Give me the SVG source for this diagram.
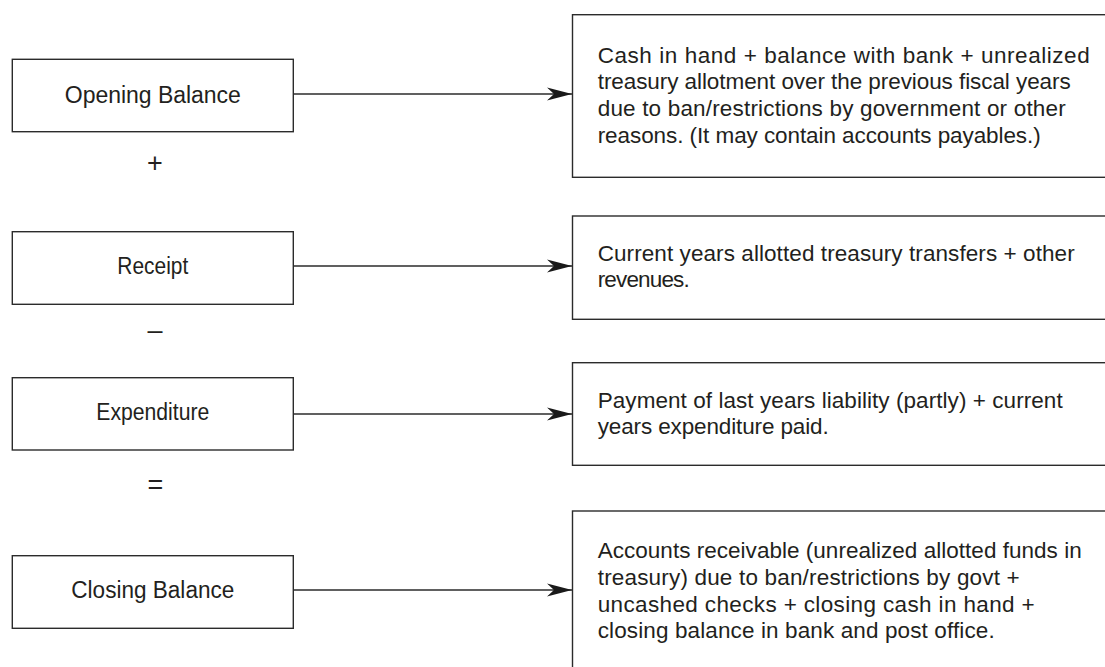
<svg xmlns="http://www.w3.org/2000/svg" width="1105" height="667" viewBox="0 0 1105 667">
<style>
.box{fill:#fff;stroke:#2b2b2b;stroke-width:1.4}
.lbl{font-family:"Liberation Sans",Arial,sans-serif;font-size:23px;fill:#231f20;text-anchor:middle}
.desc{font-family:"Liberation Sans",Arial,sans-serif;font-size:22.5px;fill:#231f20}
.op{font-family:"Liberation Sans",Arial,sans-serif;font-size:27px;fill:#231f20;text-anchor:middle}
.conn{stroke:#2b2b2b;stroke-width:1.5;fill:none}
</style>
<defs>
<marker id="arr" markerUnits="userSpaceOnUse" markerWidth="28" markerHeight="16" viewBox="-26 -8 28 16" refX="0" refY="0" orient="auto">
<path d="M0,0 L-25,-6.5 L-18,0 L-25,6.5 Z" fill="#1a1a1a"/>
</marker>
</defs>
<rect width="1105" height="667" fill="#fff"/>
<g id="opening">
<rect class="box" x="12.3" y="59.3" width="281" height="72.4"/>
<text class="lbl" x="152.8" y="103.3" textLength="176">Opening Balance</text>
</g>
<g id="receipt">
<rect class="box" x="12.3" y="231.7" width="281" height="72.6"/>
<text class="lbl" x="152.8" y="274" textLength="71" lengthAdjust="spacingAndGlyphs">Receipt</text>
</g>
<g id="expenditure">
<rect class="box" x="12.3" y="377.7" width="281" height="72.3"/>
<text class="lbl" x="152.8" y="420" textLength="113" lengthAdjust="spacingAndGlyphs">Expenditure</text>
</g>
<g id="closing">
<rect class="box" x="12.3" y="555.7" width="281" height="72.6"/>
<text class="lbl" x="152.8" y="598.3" textLength="163" lengthAdjust="spacingAndGlyphs">Closing Balance</text>
</g>
<g id="operators">
<text class="op" x="155" y="171.5">+</text>
<text class="op" x="155" y="338.5">–</text>
<text class="op" x="155.5" y="494">=</text>
</g>
<g id="desc-opening">
<rect class="box" x="572.5" y="14.7" width="600" height="162.6"/>
<text class="desc" x="597.7" y="62.5" textLength="492">Cash in hand + balance with bank + unrealized</text>
<text class="desc" x="597.7" y="89.3" textLength="473">treasury allotment over the previous fiscal years</text>
<text class="desc" x="597.7" y="116.1" textLength="468">due to ban/restrictions by government or other</text>
<text class="desc" x="597.7" y="142.9" textLength="443">reasons. (It may contain accounts payables.)</text>
</g>
<g id="desc-receipt">
<rect class="box" x="572.5" y="216" width="600" height="103.3"/>
<text class="desc" x="597.7" y="260.7" textLength="477">Current years allotted treasury transfers + other</text>
<text class="desc" x="597.7" y="287.3" textLength="92">revenues.</text>
</g>
<g id="desc-expenditure">
<rect class="box" x="572.5" y="362.7" width="600" height="102.6"/>
<text class="desc" x="597.7" y="408.3" textLength="465">Payment of last years liability (partly) + current</text>
<text class="desc" x="597.7" y="434" textLength="231">years expenditure paid.</text>
</g>
<g id="desc-closing">
<rect class="box" x="572.5" y="511" width="600" height="200"/>
<text class="desc" x="597.7" y="558.3" textLength="484">Accounts receivable (unrealized allotted funds in</text>
<text class="desc" x="597.7" y="585" textLength="422">treasury) due to ban/restrictions by govt +</text>
<text class="desc" x="597.7" y="611.7" textLength="437">uncashed checks + closing cash in hand +</text>
<text class="desc" x="597.7" y="638.3" textLength="397">closing balance in bank and post office.</text>
</g>
<g id="connectors">
<line class="conn" x1="293.3" y1="94" x2="572" y2="94" marker-end="url(#arr)"/>
<line class="conn" x1="293.3" y1="266" x2="572" y2="266" marker-end="url(#arr)"/>
<line class="conn" x1="293.3" y1="414" x2="572" y2="414" marker-end="url(#arr)"/>
<line class="conn" x1="293.3" y1="590" x2="572" y2="590" marker-end="url(#arr)"/>
</g>
</svg>
